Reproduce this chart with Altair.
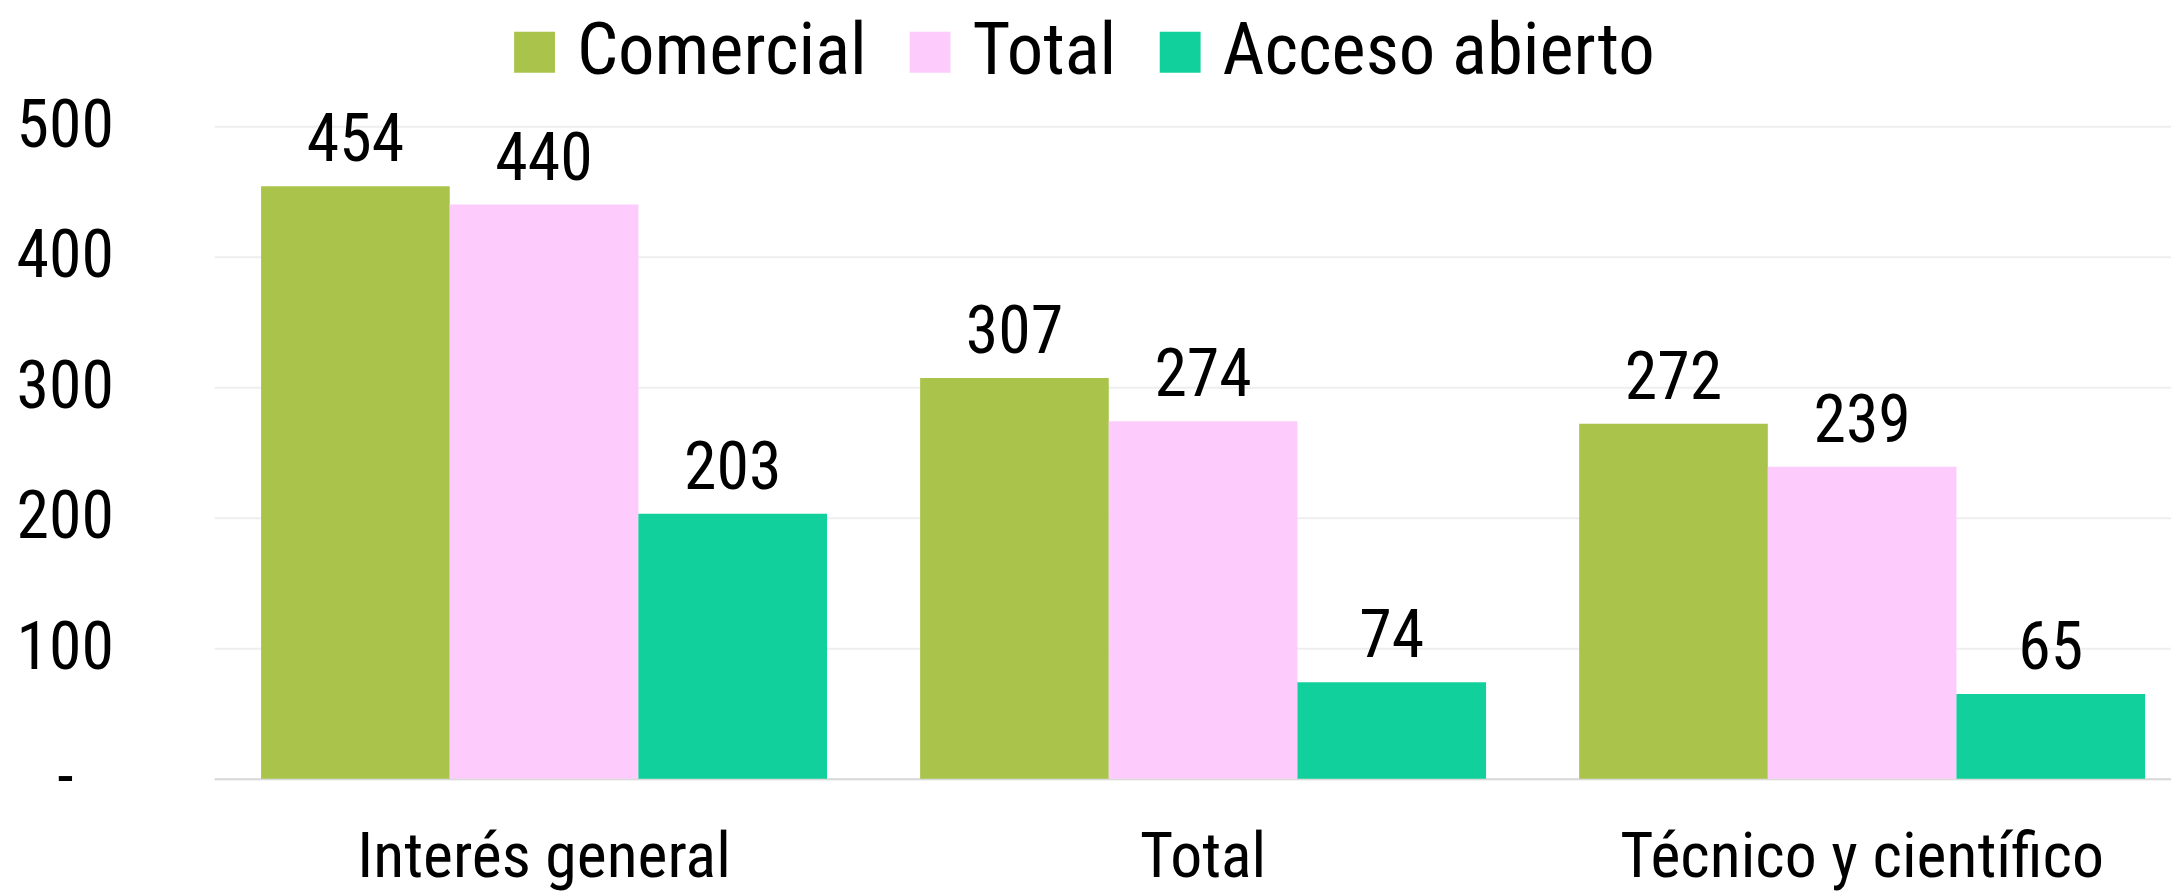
import altair as alt
import pandas as pd

categories = ["Interés general", "Total", "Técnico y científico"]
series = ["Comercial", "Total", "Acceso abierto"]
comercial = [454, 307, 272]
total = [440, 274, 239]
acceso_abierto = [203, 74, 65]
colors = ["#a9c34b", "#fdccfd", "#12d09b"]
y_ticks = [0, 100, 200, 300, 400, 500]

rows = []
for s, vals in zip(series, [comercial, total, acceso_abierto]):
    for c, v in zip(categories, vals):
        rows.append({"categoria": c, "serie": s, "valor": v})
df = pd.DataFrame(rows)

FONT = "Liberation Sans Narrow, Arial Narrow, Roboto Condensed, sans-serif"

x_enc = alt.X(
    "categoria:N",
    sort=categories,
    title=None,
    scale=alt.Scale(paddingInner=0.1413, paddingOuter=0.0552, align=0.644, round=False),
    axis=alt.Axis(
        labelAngle=0,
        labelFont=FONT,
        labelFontSize=64,
        labelColor="black",
        labelBaseline="alphabetic",
        labelPadding=98,
        labelLimit=1000,
        ticks=False,
        tickSize=0,
        domain=True,
        domainColor="#d9d9d9",
        domainWidth=2,
        grid=False,
    ),
)
xoff_enc = alt.XOffset(
    "serie:N", sort=series, scale=alt.Scale(paddingInner=0, paddingOuter=0, round=False)
)
y_enc = alt.Y(
    "valor:Q",
    title=None,
    scale=alt.Scale(domain=[0, 500], nice=False),
    axis=alt.Axis(
        values=y_ticks,
        labelExpr="datum.value == 0 ? '-' : format(datum.value, 'd')",
        grid=True,
        gridColor="#eeeeee",
        gridWidth=2,
        domain=False,
        ticks=False,
        tickSize=0,
        labelAlign="center",
        labelBaseline="middle",
        labelPadding=150,
        labelFont=FONT,
        labelFontSize=66,
        labelColor="black",
    ),
)

bars = alt.Chart(df).mark_bar().encode(
    x=x_enc,
    xOffset=xoff_enc,
    y=y_enc,
    color=alt.Color(
        "serie:N",
        sort=series,
        scale=alt.Scale(domain=series, range=colors),
        legend=alt.Legend(
            title=None,
            orient="none",
            direction="horizontal",
            legendX=285,
            legendY=-111,
            symbolType="square",
            symbolSize=1681,
            symbolStrokeWidth=0,
            symbolOpacity=1,
            labelFont=FONT,
            labelFontSize=73,
            labelColor="black",
            labelOffset=6,
            labelLimit=1000,
            columnPadding=27,
            padding=0,
        ),
    ),
)

labels = alt.Chart(df).mark_text(
    baseline="alphabetic", dy=-25, fontSize=66, font=FONT, color="black"
).encode(
    x=alt.X("categoria:N", sort=categories),
    xOffset=alt.XOffset("serie:N", sort=series),
    y=alt.Y("valor:Q"),
    text=alt.Text("valor:Q", format="d"),
)

chart = (
    alt.layer(bars, labels)
    .properties(
        width=1964,
        height=655,
        autosize=alt.AutoSizeParams(type="none"),
        padding={"left": 207, "top": 117, "right": 0, "bottom": 116},
    )
    .configure_view(stroke=None)
)

chart.save("out.html", embed_options={"renderer": "svg", "actions": False})
